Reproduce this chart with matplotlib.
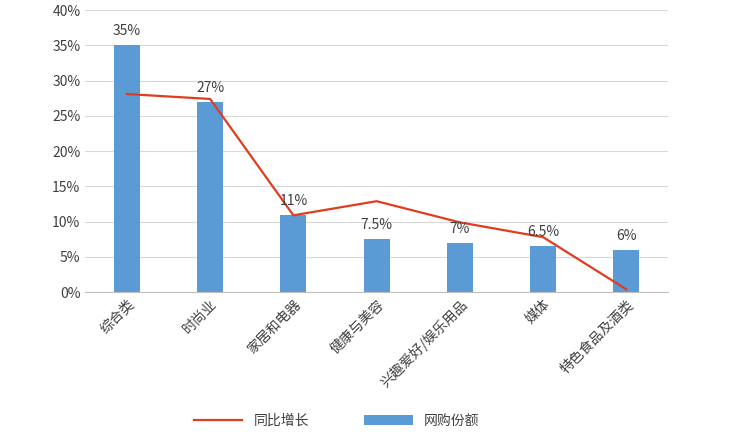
import matplotlib
matplotlib.use("Agg")
import matplotlib.pyplot as plt
from matplotlib.ticker import FuncFormatter

plt.rcParams['font.family'] = ['Noto Sans CJK SC']

categories = ["综合类", "时尚业", "家居和电器", "健康与美容", "兴趣爱好/娱乐用品", "媒体", "特色食品及酒类"]
share = [35, 27, 11, 7.5, 7, 6.5, 6]
share_labels = ["35%", "27%", "11%", "7.5%", "7%", "6.5%", "6%"]
growth = [28.1, 27.4, 10.9, 12.9, 9.9, 7.8, 0.4]

fig = plt.figure(figsize=(7.48, 4.40), dpi=100)
ax = fig.add_axes([0.114, 0.336, 0.779, 0.641])
x = range(len(categories))
bars = ax.bar(x, share, width=0.31, color="#5B9BD5", label="网购份额", zorder=2)
ax.plot(x, growth, color="#E03C1F", lw=1.6, label="同比增长", zorder=3)
for i, (v, t) in enumerate(zip(share, share_labels)):
    ax.text(i, v + 1.0, t, ha="center", va="bottom", fontsize=10, color="#404040")
ax.set_xlim(-0.5, 6.5)
ax.set_ylim(0, 40)
ax.set_yticks(range(0, 41, 5))
ax.yaxis.set_major_formatter(FuncFormatter(lambda v, p: f"{int(v)}%"))
ax.set_xticks(list(x))
ax.set_xticklabels(categories, rotation=45, ha="right", rotation_mode="anchor", fontsize=10, color="#404040")
ax.tick_params(axis="y", length=0, labelsize=10, labelcolor="#404040")
ax.tick_params(axis="x", length=0)
ax.grid(axis="y", color="#D9D9D9", lw=0.8, zorder=0)
for s in ["top", "right", "left"]:
    ax.spines[s].set_visible(False)
ax.spines["bottom"].set_color("#BFBFBF")
fig.legend(loc="lower center", bbox_to_anchor=(0.45, 0.0), ncol=2, frameon=False,
           fontsize=10, handlelength=3.5, columnspacing=4, labelcolor="#404040")
fig.savefig("out.png", dpi=100)
